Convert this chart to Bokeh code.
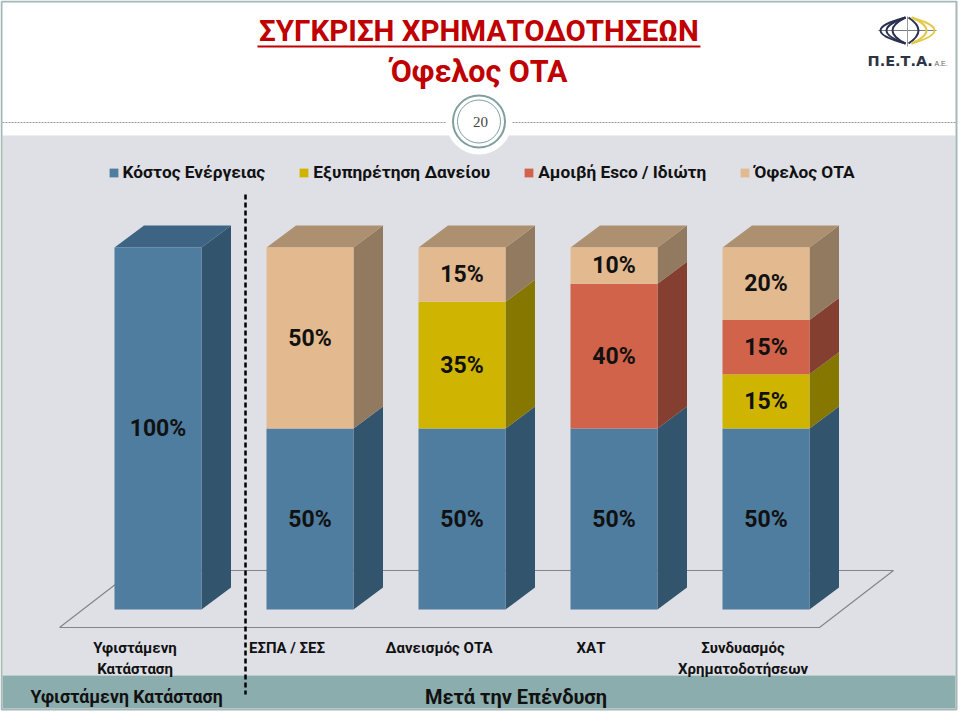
from bokeh.plotting import figure
from bokeh.models import ColumnDataSource, Range1d, LinearAxis, FixedTicker, Legend, LegendItem
from bokeh.core.properties import value
from bokeh.embed import file_html
from bokeh.resources import INLINE

# ---- data ----
categories = ["Υφιστάμενη\nΚατάσταση", "ΕΣΠΑ / ΣΕΣ", "Δανεισμός ΟΤΑ", "ΧΑΤ", "Συνδυασμός\nΧρηματοδοτήσεων"]
series_names = ["Κόστος Ενέργειας", "Εξυπηρέτηση Δανείου", "Αμοιβή Esco / Ιδιώτη", "Όφελος ΟΤΑ"]
energy = [100, 50, 50, 50, 50]
loan = [0, 0, 35, 0, 15]
esco = [0, 0, 0, 40, 15]
benefit = [0, 50, 15, 10, 20]
title_1 = "ΣΥΓΚΡΙΣΗ ΧΡΗΜΑΤΟΔΟΤΗΣΕΩΝ"
title_2 = "Όφελος ΟΤΑ"
page_no = "20"
band_left = "Υφιστάμενη Κατάσταση"
band_right = "Μετά την Επένδυση"

# ---- style ----
front = ["#4e7da0", "#cfb502", "#d1634a", "#e3ba8f"]
side = ["#33546d", "#857700", "#843f30", "#927a60"]
topc = ["#3e6484", "#a08f00", "#a04f3c", "#ad9070"]
FONT = "Roboto"
W, H = 960, 712
BAR_X0, BAR_STEP, BAR_W = 157.5, 152.0, 87.0
Y0, PCT = 609.0, 3.62
DX, DY = 29.5, 22.0


def X(px):
    return (px - BAR_X0) / BAR_STEP


def Y(py):
    return (Y0 - py) / PCT


p = figure(width=W, height=H, output_backend="svg", toolbar_location=None,
           x_range=Range1d(X(0), X(W)), y_range=Range1d(Y(H), Y(0)),
           x_axis_type=None, y_axis_type=None, min_border=0,
           background_fill_color="white", border_fill_color="white", outline_line_color=None)
p.grid.visible = False
f = value(FONT)

# panels and frame
p.quad(left=[X(2)], right=[X(955)], top=[Y(135)], bottom=[Y(675)], color="#dfe0e6", line_color=None)
p.quad(left=[X(2)], right=[X(955)], top=[Y(675)], bottom=[Y(708)], color="#8cadad", line_color=None)
p.line([X(1), X(956), X(956), X(1), X(1)], [Y(1), Y(1), Y(709), Y(709), Y(1)], line_color="#a5b8b8", line_width=2)

# header rule and page badge
p.line([X(2), X(955)], [Y(122), Y(122)], line_color="#9a9a9a", line_width=1, line_dash="2 1")
p.scatter([X(478.5)], [Y(121)], size=66, marker="circle", fill_color="white", line_color=None)
p.scatter([X(478.5)], [Y(121)], size=52, marker="circle", fill_color="white", line_color="#7f9f9f", line_width=2)
p.scatter([X(478.5)], [Y(121)], size=43, marker="circle", fill_color="white", line_color="#7f9f9f", line_width=1)
p.text([X(480)], [Y(121)], text=[page_no], text_font=value("Liberation Serif"), text_font_size="15px",
       text_align="center", text_baseline="middle", text_color="#444444")

# titles
p.text([X(478.5)], [Y(30)], text=[title_1], text_font=f, text_font_size="29.5px", text_font_style="bold",
       text_color="#c00000", text_align="center", text_baseline="middle")
p.line([X(257), X(700)], [Y(46), Y(46)], line_color="#c00000", line_width=2)
p.text([X(478.5)], [Y(71)], text=[title_2], text_font=f, text_font_size="30.5px", text_font_style="bold",
       text_color="#c00000", text_align="center", text_baseline="middle")

# logo
p.line([X(878), X(936)], [Y(30), Y(30)], line_color="#777a88", line_width=1)
p.line([X(907), X(907)], [Y(16), Y(46)], line_color="#9a9aa0", line_width=1)
for reach, col in [(880, "#2b3050"), (886, "#2b3050"), (892, "#2b3050")]:
    p.quadratic(X(905), Y(17), X(905), Y(43), X(2 * reach - 905), Y(30), line_color=col, line_width=2)
p.quadratic(X(908), Y(17), X(908), Y(43), X(928), Y(30), line_color="#2b3050", line_width=2)
for reach in (926, 934):
    p.quadratic(X(911), Y(17), X(911), Y(43), X(2 * reach - 911), Y(30), line_color="#e3c94a", line_width=2)
p.text([X(867)], [Y(60)], text=["Π.Ε.Τ.Α."], text_font=value("DejaVu Sans"), text_font_size="14.5px",
       text_font_style="bold", text_color="#2d3446", text_baseline="middle")
p.text([X(934)], [Y(63)], text=["Α.Ε."], text_font=value("Liberation Sans"), text_font_size="7px",
       text_color="#666666", text_baseline="middle")

# floor
fl = ([59, 819, 893, 133, 59], [627, 627, 570, 570, 627])
p.line([X(v) for v in fl[0]], [Y(v) for v in fl[1]], line_color="#858585", line_width=1.2)

# bars
series = [energy, loan, esco, benefit]
xs = list(range(len(categories)))
dx, dy = DX / BAR_STEP, DY / PCT
hw = BAR_W / BAR_STEP / 2
bottoms = [0] * len(xs)
items = []
lab_x, lab_y, lab_t = [], [], []
for s, vals in enumerate(series):
    tops = [b + v for b, v in zip(bottoms, vals)]
    sx, sy = [], []
    tx, ty = [], []
    for i in xs:
        if vals[i] == 0:
            continue
        r = i + hw
        sx.append([r, r + dx, r + dx, r])
        sy.append([bottoms[i], bottoms[i] + dy, tops[i] + dy, tops[i]])
        if tops[i] == 100:
            tx.append([i - hw, i - hw + dx, r + dx, r])
            ty.append([100, 100 + dy, 100 + dy, 100])
        lab_x.append(i)
        lab_y.append((bottoms[i] + tops[i]) / 2)
        lab_t.append(f"{vals[i]}%")
    p.patches(sx, sy, fill_color=side[s], line_color=None)
    if tx:
        p.patches(tx, ty, fill_color=topc[s], line_color=None)
    src = ColumnDataSource(dict(x=xs, top=tops, bottom=bottoms))
    r_ = p.vbar(x="x", top="top", bottom="bottom", width=2 * hw, source=src, fill_color=front[s], line_color=None)
    items.append(LegendItem(label=series_names[s], renderers=[r_]))
    bottoms = tops

p.text(lab_x, lab_y, text=lab_t, text_font=f, text_font_size="23px", text_font_style="bold", text_color="#111111",
       text_align="center", text_baseline="middle")

# legend
lg = Legend(items=items, orientation="horizontal", location=(107.5, 530), spacing=33, padding=0, margin=0,
            glyph_width=11, glyph_height=11, label_standoff=4, label_text_font=FONT, label_text_font_size="17.3px",
            label_text_font_style="bold", label_text_color="#111111", background_fill_alpha=0,
            border_line_color=None, label_height=11)
p.add_layout(lg)

# category axis, whose labels sit left of the bars
p.extra_x_ranges = {"labels": Range1d(X(0) + 23 / BAR_STEP, X(W) + 23 / BAR_STEP)}
ax = LinearAxis(x_range_name="labels", ticker=FixedTicker(ticks=xs),
                major_label_overrides={i: c for i, c in enumerate(categories)},
                fixed_location=Y(632), axis_line_color=None, major_tick_line_color=None, minor_tick_line_color=None,
                major_label_standoff=0, major_label_text_font=FONT, major_label_text_font_size="15px",
                major_label_text_font_style="bold", major_label_text_color="#111111")
p.add_layout(ax, "below")

# bottom band texts
p.text([X(126)], [Y(696)], text=[band_left], text_font=f, text_font_size="17.7px", text_font_style="bold",
       text_align="center", text_baseline="middle", text_color="#111111")
p.text([X(515.5)], [Y(696)], text=[band_right], text_font=f, text_font_size="20px", text_font_style="bold",
       text_align="center", text_baseline="middle", text_color="#111111")

# divider
p.line([X(245), X(245)], [Y(194), Y(694)], line_color="black", line_width=2.5, line_dash="5 3")

open("out.html", "w").write(file_html(p, INLINE))
